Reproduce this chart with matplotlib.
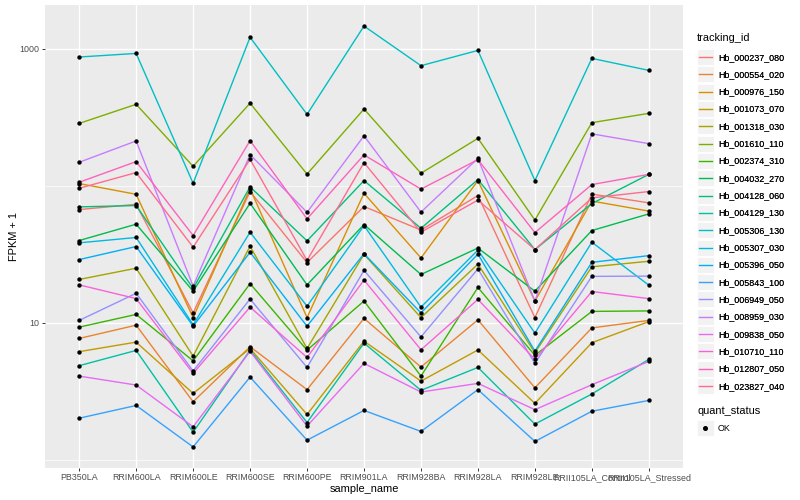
import matplotlib
matplotlib.use('Agg')
import matplotlib.pyplot as plt
import numpy as np
from matplotlib.lines import Line2D
from matplotlib.patches import Rectangle
from matplotlib.legend_handler import HandlerBase
from matplotlib.ticker import NullFormatter

plt.rcParams['font.family'] = ['Liberation Sans', 'DejaVu Sans']

samples = ['PB350LA', 'RRIM600LA', 'RRIM600LE', 'RRIM600SE', 'RRIM600PE',
           'RRIM901LA', 'RRIM928BA', 'RRIM928LA', 'RRIM928LE',
           'RRII105LA_Control', 'RRII105LA_Stressed']

tracking_ids = ['Hb_000237_080', 'Hb_000554_020', 'Hb_000976_150', 'Hb_001073_070',
                'Hb_001318_030', 'Hb_001610_110', 'Hb_002374_310', 'Hb_004032_270',
                'Hb_004128_060', 'Hb_004129_130', 'Hb_005306_130', 'Hb_005307_030',
                'Hb_005396_050', 'Hb_005843_100', 'Hb_006949_050', 'Hb_008959_030',
                'Hb_009838_050', 'Hb_010710_110', 'Hb_012807_050', 'Hb_023827_040']

# ggplot hue palette, 20 levels
colors = ['#F8766D', '#EA8331', '#D89000', '#C09B00', '#A3A500', '#7CAE00',
          '#39B600', '#00BB4E', '#00BF7D', '#00C1A3', '#00BFC4', '#00BAE0',
          '#00B0F6', '#35A2FF', '#9590FF', '#C77CFF', '#E76BF3', '#FA62DB',
          '#FF62BC', '#FF6C90']

# FPKM + 1, one value per sample
hb_000237_080 = [67.0, 73.2, 11.8, 90.7, 27.5, 70.5, 47.5, 84.8, 10.9, 86.9, 75.0]
hb_000554_020 = [7.68, 9.60, 2.65, 6.68, 3.25, 10.75, 4.75, 10.5, 3.35, 9.17, 10.4]
hb_000976_150 = [103.7, 86.6, 10.9, 95.3, 10.9, 88.1, 29.7, 109, 14.4, 77.3, 65.3]
hb_001073_070 = [6.15, 7.22, 3.05, 6.49, 2.14, 7.34, 3.75, 6.33, 2.58, 7.15, 10.2]
hb_001318_030 = [20.7, 25.0, 5.71, 36.2, 6.49, 31.6, 10.9, 26.8, 6.04, 25.6, 28.1]
hb_001610_110 = [285, 393, 138.6, 400.6, 121.6, 363, 123.3, 221.8, 56.2, 288.6, 337.6]
hb_002374_310 = [9.29, 11.5, 5.27, 19.3, 6.31, 14.4, 4.08, 18.1, 5.78, 12.1, 12.2]
hb_004032_270 = [39.8, 52.4, 17.0, 74.5, 18.9, 52.1, 22.5, 35.1, 17.0, 47.1, 62.3]
hb_004128_060 = [70.1, 71.7, 17.8, 98.1, 39.6, 109, 48.9, 110.9, 34.2, 74.1, 121]
hb_004129_130 = [4.86, 6.28, 1.59, 6.31, 1.87, 7.10, 3.21, 4.72, 1.82, 3.02, 5.40]
hb_005306_130 = [870, 924, 104.2, 1213, 331.9, 1464, 752, 972, 109, 850, 695]
hb_005307_030 = [38.3, 41.9, 9.67, 45.8, 13.2, 51.2, 13.0, 33.9, 8.40, 38.7, 18.8]
hb_005396_050 = [28.9, 36.0, 9.45, 32.7, 9.43, 31.9, 11.8, 31.7, 6.21, 27.6, 30.9]
hb_005843_100 = [2.01, 2.49, 1.24, 4.01, 1.39, 2.29, 1.61, 3.25, 1.36, 2.26, 2.71]
hb_006949_050 = [10.4, 16.4, 4.44, 14.9, 4.72, 24.1, 7.88, 24.7, 5.05, 21.8, 21.9]
hb_008959_030 = [148.3, 212.3, 18.5, 168.7, 64.0, 231.3, 64.2, 158.5, 14.4, 239.2, 202.9]
hb_009838_050 = [4.08, 3.51, 1.74, 6.18, 1.76, 5.05, 3.12, 3.61, 2.32, 3.53, 5.22]
hb_010710_110 = [18.9, 15.0, 4.27, 13.0, 5.58, 20.5, 6.35, 14.8, 5.40, 16.9, 15.0]
hb_012807_050 = [106, 150, 43.3, 213.4, 57.3, 167.9, 94.5, 155.1, 45.5, 102, 121]
hb_023827_040 = [95.8, 124.7, 35.6, 155.9, 28.5, 147.5, 45.8, 78.6, 34.2, 81.5, 90.7]

series = [hb_000237_080, hb_000554_020, hb_000976_150, hb_001073_070, hb_001318_030,
          hb_001610_110, hb_002374_310, hb_004032_270, hb_004128_060, hb_004129_130,
          hb_005306_130, hb_005307_030, hb_005396_050, hb_005843_100, hb_006949_050,
          hb_008959_030, hb_009838_050, hb_010710_110, hb_012807_050, hb_023827_040]


class GreyKey(HandlerBase):
    # ggplot style legend key: grey square with the line / point on it
    def create_artists(self, legend, orig_handle, xdescent, ydescent,
                       width, height, fontsize, trans):
        x0, y0 = -xdescent, -ydescent
        bg = Rectangle((x0, y0), width, height, facecolor='#F2F2F2',
                       edgecolor='white', linewidth=0.6, transform=trans)
        ym = y0 + height / 2
        if orig_handle.get_linestyle() not in ('None', ''):
            mark = Line2D([x0 + 0.1 * width, x0 + 0.9 * width], [ym, ym],
                          color=orig_handle.get_color(), lw=1.0, transform=trans)
        else:
            mark = Line2D([x0 + width / 2], [ym], marker='o', ms=2.6,
                          color='black', ls='None', transform=trans)
        return [bg, mark]


fig = plt.figure(figsize=(8, 5), dpi=100)
ax = fig.add_axes([45 / 800, 32 / 500, 638 / 800, 463 / 500])
ax.set_facecolor('#EBEBEB')
for sp in ax.spines.values():
    sp.set_visible(False)

x = np.arange(len(samples))
for vals, col in zip(series, colors):
    ax.plot(x, vals, color=col, lw=1.0, zorder=2)
for vals in series:
    ax.scatter(x, vals, s=10, color='black', zorder=3, linewidths=0)

ax.set_yscale('log')
allv = np.log10(np.concatenate([np.array(v) for v in series]))
lo, hi = allv.min(), allv.max()
pad = 0.05 * (hi - lo)
ax.set_ylim(10 ** (lo - pad), 10 ** (hi + pad))
ax.set_xlim(-0.6, len(samples) - 0.4)

ax.set_xticks(x)
ax.set_xticklabels(samples)
ax.set_yticks([10, 1000])
ax.set_yticklabels(['10', '1000'])
ax.set_yticks([1, 100], minor=True)
ax.yaxis.set_minor_formatter(NullFormatter())
ax.set_axisbelow(True)
ax.grid(which='major', color='white', lw=1.0)
ax.grid(which='minor', axis='y', color='white', lw=0.5)
ax.tick_params(which='minor', length=0)
ax.tick_params(which='major', length=2.0, width=0.7, color='#333333',
               labelsize=6.4, labelcolor='#4D4D4D', pad=1.8)

ax.set_xlabel('sample_name', fontsize=7.9, color='black', labelpad=1)
ax.set_ylabel('FPKM + 1', fontsize=7.9, color='black', labelpad=0.5)

leg_kw = dict(loc='upper left', frameon=False, fontsize=6.4, handlelength=1.9,
              handleheight=2.39, labelspacing=0.15, handletextpad=0.45,
              borderpad=0, borderaxespad=0, handler_map={Line2D: GreyKey()})

fig.text(697 / 800, 1 - 38 / 500, 'tracking_id', fontsize=7.9, va='center', ha='left')
handles = [Line2D([], [], color=c, lw=1.0) for c in colors]
leg1 = fig.legend(handles, tracking_ids, bbox_to_anchor=(697 / 800, 1 - 49 / 500),
                  **leg_kw)
fig.add_artist(leg1)

fig.text(697 / 800, 1 - 411 / 500, 'quant_status', fontsize=7.9, va='center', ha='left')
ok_handle = [Line2D([], [], marker='o', color='black', ls='None')]
fig.legend(ok_handle, ['OK'], bbox_to_anchor=(697 / 800, 1 - 420 / 500), **leg_kw)

fig.savefig('out.png', dpi=100)
